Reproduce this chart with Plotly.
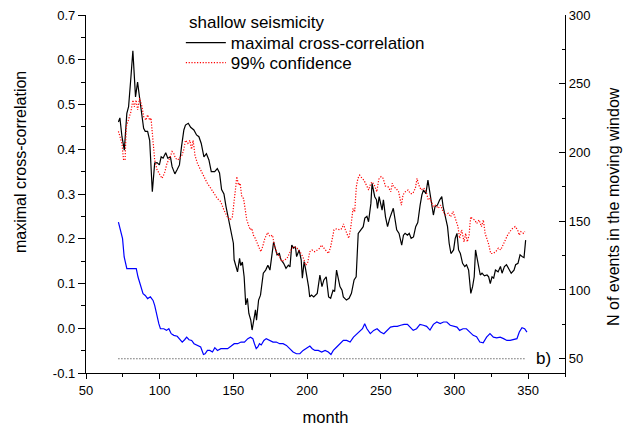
import plotly.graph_objects as go

# ---- data ----
corr_month = [72, 73, 74.4, 76, 77.7, 78.9, 80.5, 81.8, 83.6, 85, 86.4, 88, 89.1, 90.2, 91.8, 93.2, 95, 96.6, 98.2, 99.8,
              101, 102.3, 104.1, 105.5, 107.3, 108.4, 110.3, 111.8, 113.4, 114.8, 116.4, 117.5, 119.4, 121, 123.2, 125,
              126.6, 128.2, 130, 131.7, 133.4, 135, 137.3, 139.1, 140.6, 142, 143.6, 145, 146.4, 147.8, 149, 150, 150.5,
              151.7, 152.8, 154.2, 155, 156.1, 157.3, 158.4, 159.5, 160.5, 161.8, 162.7, 163.9, 165, 165.7, 167.1, 168.4,
              170.3, 171.9, 173.4, 174.8, 176.2, 177.3, 178.2, 179.6, 181.2, 182.3, 184.1, 185.7, 187.3, 188.4, 189.6,
              190.9, 192.1, 192.9, 194.6, 196, 196.8, 198, 198.9, 200.3, 201, 201.8, 203, 204.5, 205.7, 206.9, 208.7,
              210.1, 211.4, 213, 214.6, 216, 217.6, 218.7, 220, 221, 222.3, 223.7, 224.6, 226.7, 228.5, 230.1, 231.9,
              233.3, 234.1, 234.7, 236.5, 238.1, 239.2, 240.6, 241.7, 243.3, 244.1, 245, 245.9, 247.1, 247.8, 248.9, 250,
              250.9, 251.8, 253.2, 254.6, 256, 258.5, 259.7, 260.8, 262.4, 264.2, 265.4, 266.5, 268.1, 269.3, 270.6,
              272.2, 273.7, 275.1, 276.7, 277.9, 279, 280.6, 282, 283.1, 284.3, 285.7, 286.8, 288.4, 290, 291.4, 292.3,
              293.7, 295.3, 296.4, 297.6, 299.4, 300.5, 301.7, 302.8, 304, 305.5, 307, 308.2, 309.6, 310.2, 311.1, 312.3,
              313.4, 314.3, 315.5, 316.4, 317.5, 318.7, 320.3, 322.1, 323.2, 324.3, 325.5, 326.6, 327.8, 329.6, 331.2,
              332.3, 333.9, 335.3, 336.9, 338.5, 340.4, 341.5, 343.1, 344.5, 346.1, 347.2, 348.3]
corr_value = [0.461, 0.47, 0.428, 0.398, 0.48, 0.495, 0.562, 0.62, 0.517, 0.55, 0.514, 0.465, 0.447, 0.44, 0.44, 0.42,
              0.305, 0.369, 0.37, 0.365, 0.383, 0.38, 0.392, 0.38, 0.383, 0.361, 0.345, 0.354, 0.365, 0.406, 0.443, 0.454,
              0.458, 0.449, 0.443, 0.432, 0.428, 0.413, 0.383, 0.39, 0.376, 0.35, 0.35, 0.357, 0.347, 0.31, 0.30, 0.272,
              0.249, 0.22, 0.20, 0.19, 0.153, 0.141, 0.126, 0.156, 0.14, 0.148, 0.115, 0.052, 0.067, 0.033, 0.018, -0.004,
              0.026, 0.041, 0.018, 0.063, 0.074, 0.123, 0.13, 0.141, 0.13, 0.16, 0.193, 0.182, 0.164, 0.167, 0.153,
              0.145, 0.134, 0.141, 0.137, 0.186, 0.179, 0.182, 0.16, 0.175, 0.153, 0.112, 0.149, 0.134, 0.112, 0.093,
              0.07, 0.074, 0.07, 0.074, 0.078, 0.119, 0.093, 0.108, 0.115, 0.07, 0.067, 0.085, 0.082, 0.13, 0.115, 0.093,
              0.085, 0.07, 0.063, 0.067, 0.078, 0.108, 0.115, 0.16, 0.212, 0.22, 0.227, 0.246, 0.25, 0.238, 0.279, 0.324,
              0.305, 0.294, 0.287, 0.268, 0.294, 0.279, 0.264, 0.287, 0.249, 0.227, 0.245, 0.268, 0.242, 0.22, 0.212,
              0.186, 0.208, 0.212, 0.208, 0.212, 0.201, 0.204, 0.227, 0.236, 0.275, 0.298, 0.309, 0.301, 0.331, 0.309,
              0.29, 0.253, 0.272, 0.275, 0.287, 0.294, 0.272, 0.249, 0.227, 0.19, 0.167, 0.175, 0.201, 0.212, 0.175,
              0.167, 0.145, 0.138, 0.142, 0.13, 0.108, 0.078, 0.093, 0.115, 0.175, 0.153, 0.13, 0.119, 0.123, 0.117,
              0.119, 0.115, 0.1, 0.115, 0.112, 0.13, 0.126, 0.138, 0.123, 0.138, 0.142, 0.134, 0.123, 0.13, 0.142, 0.145,
              0.164, 0.16, 0.158, 0.197]

conf_month = [72, 73, 74.4, 75.5, 76.5, 77.3, 78.9, 80.5, 81.8, 82.8, 84, 85, 86.4, 88, 89.1, 90.7, 91.8, 93.2, 94.1,
              95.2, 96.6, 98.2, 100, 101.6, 103.2, 105, 106.8, 108.4, 109.5, 110.7, 112.3, 113.6, 115.2, 116.4, 117.5,
              119.1, 120.5, 121.6, 122.7, 123.9, 125.5, 127.3, 128.9, 130.7, 132.3, 134.6, 136.8, 139.1, 141.4, 143.6,
              145.9, 147.8, 149.3, 150.5, 151.6, 152.3, 153.5, 154.6, 155.7, 156.9, 158, 159.1, 160.2, 161.4, 162.5,
              163.6, 164.8, 166.4, 167.5, 168.6, 169.8, 171.4, 173.2, 174.8, 176.6, 177.7, 179.6, 181.2, 183, 184.6,
              186.4, 188, 189.6, 191.4, 193.2, 194.8, 196, 197.6, 199, 200.3, 201.8, 203.4, 205.2, 207, 208.6, 209.7,
              211.5, 213.1, 214.5, 216, 217.2, 218.3, 219.9, 222.2, 223.7, 224.7, 226, 227.4, 228.3, 229.5, 230.5, 231.2,
              232.3, 233.4, 234.5, 235.7, 237.3, 238.6, 240.2, 241.8, 243.2, 244.3, 245.9, 247.3, 248.7, 250.2, 251.6,
              253.1, 255, 256.8, 257.8, 258.7, 260.3, 262.1, 264, 265.1, 266.7, 268.5, 270.1, 271.7, 273.5, 274.6, 275.8,
              277.4, 279.2, 280.8, 282.2, 283.5, 285.6, 287.2, 289, 290.6, 292.2, 294, 295.8, 297.4, 299, 300.8, 302.4,
              303.5, 304.9, 306.5, 307.6, 308.7, 309.9, 311, 312.1, 313.7, 315.1, 316.7, 318.3, 319.6, 320.8, 321.9, 323,
              324.6, 326.2, 328, 329.8, 331.4, 333, 334.8, 336, 337.6, 339.4, 341.2, 342.8, 344, 345.1, 346.9, 347.8]
conf_value = [0.44, 0.43, 0.413, 0.376, 0.376, 0.45, 0.465, 0.484, 0.51, 0.495, 0.51, 0.488, 0.514, 0.495, 0.473, 0.465,
              0.477, 0.465, 0.47, 0.428, 0.376, 0.354, 0.342, 0.335, 0.346, 0.369, 0.38, 0.395, 0.391, 0.38, 0.376, 0.38,
              0.387, 0.4, 0.42, 0.413, 0.42, 0.40, 0.42, 0.387, 0.369, 0.357, 0.346, 0.335, 0.324, 0.313, 0.302, 0.29,
              0.283, 0.264, 0.249, 0.242, 0.249, 0.279, 0.316, 0.339, 0.32, 0.324, 0.294, 0.29, 0.264, 0.242, 0.231,
              0.22, 0.223, 0.208, 0.201, 0.19, 0.179, 0.171, 0.182, 0.201, 0.214, 0.205, 0.208, 0.186, 0.167, 0.16,
              0.149, 0.153, 0.156, 0.167, 0.179, 0.182, 0.179, 0.172, 0.167, 0.156, 0.141, 0.145, 0.171, 0.175, 0.171,
              0.175, 0.179, 0.186, 0.179, 0.175, 0.167, 0.182, 0.201, 0.22, 0.222, 0.22, 0.223, 0.233, 0.22, 0.208, 0.201,
              0.222, 0.249, 0.268, 0.26, 0.316, 0.335, 0.342, 0.335, 0.331, 0.32, 0.309, 0.324, 0.327, 0.318, 0.305,
              0.333, 0.339, 0.335, 0.318, 0.316, 0.305, 0.324, 0.316, 0.313, 0.305, 0.275, 0.298, 0.305, 0.309, 0.301,
              0.301, 0.313, 0.335, 0.32, 0.309, 0.313, 0.305, 0.287, 0.29, 0.272, 0.275, 0.268, 0.275, 0.261, 0.253,
              0.257, 0.249, 0.261, 0.242, 0.227, 0.201, 0.22, 0.193, 0.212, 0.193, 0.208, 0.249, 0.245, 0.242, 0.234,
              0.242, 0.227, 0.242, 0.212, 0.201, 0.19, 0.167, 0.167, 0.171, 0.179, 0.175, 0.186, 0.201, 0.208, 0.216,
              0.223, 0.227, 0.22, 0.208, 0.216, 0.212, 0.216]

n_month = [72, 73.2, 74.8, 75.9, 77.7, 81.1, 84.1, 85.3, 86.8, 88.7, 90.2, 91.8, 93.7, 95.5, 96.6, 97.8, 99.4, 100.5,
           102.8, 104.6, 106.2, 107.8, 109.6, 111.9, 113.7, 115.3, 116.9, 118.3, 119.9, 121.7, 123.3, 125.6, 127.8,
           129.7, 130.8, 132.4, 134, 135.8, 137.4, 139.2, 141.5, 143.8, 146.1, 148.3, 150.6, 152.9, 155.2, 157.5,
           159.8, 161.6, 163.2, 164.3, 165.5, 166.6, 167.7, 168.9, 170.7, 172.3, 174.6, 176.9, 179.1, 181.4, 183.7,
           186, 188.2, 190.5, 192.8, 195.1, 197.3, 199.6, 201.9, 203.5, 205.3, 207.6, 209.9, 212.2, 214.4, 216.2,
           217.8, 220.1, 222.4, 224.6, 226.9, 229.2, 231.5, 233.8, 236.1, 237.6, 239.1, 240.6, 242.9, 245.2, 247.5,
           249.8, 252.1, 254.4, 256.6, 258.9, 261.2, 263.5, 265.8, 268.1, 269.7, 272, 274.3, 276.6, 278.9, 281.1,
           283.4, 285.7, 288, 290.3, 292.6, 294.8, 297.1, 299.4, 301.7, 303.5, 305.8, 308.1, 310.4, 312.7, 315,
           317.2, 319.5, 321.8, 324.1, 326.4, 328.7, 331, 333.3, 335.6, 337.8, 340.1, 342.4, 344, 345.8, 347.6, 349.2]
n_events = [149.4, 143.4, 137.3, 124, 115.5, 115.5, 115.5, 109.4, 104.6, 97.3, 96, 93.7, 95, 92.4, 88.8, 82.7, 75.5,
            71.8, 71.8, 70.6, 71.8, 68.2, 67, 66.3, 63.8, 62.1, 63.8, 65.7, 63.8, 63.3, 60.9, 59.7, 58.5, 53.1, 53.6,
            56, 56, 54.9, 58, 56, 57.3, 57.3, 57.3, 59, 60.9, 60.9, 62.1, 62.1, 64.6, 65.7, 64.6, 60.9, 57.3, 58.5,
            60.9, 60, 63.3, 64.6, 63.3, 62.1, 62.1, 60.9, 60.9, 59.7, 57.3, 54.9, 53.6, 53.6, 56, 57.3, 59.2, 57.3,
            56, 56, 54.9, 56, 54.9, 53.1, 56, 58.5, 60.9, 63.3, 63.3, 62.1, 65.7, 68.2, 70.6, 71.8, 75.5, 71.8, 68.2,
            70.6, 71.8, 69.4, 68.2, 70.6, 73, 73.5, 73.5, 74.3, 75, 75, 73, 70.6, 71.8, 75, 74.3, 73.5, 70.8, 75,
            76.7, 75.5, 76.7, 76.7, 74.3, 73.5, 73, 70.6, 71.8, 71.8, 69.4, 67, 66, 62.1, 61.5, 65.7, 68.2, 65.7,
            65.2, 65.7, 64.6, 63.3, 63.3, 63.8, 64.6, 69.4, 72.6, 71.8, 69.4]

threshold_month = [72, 348]
threshold_n = [50, 50]

left_tick_vals = [-0.1, 0.0, 0.1, 0.2, 0.3, 0.4, 0.5, 0.6, 0.7]
left_tick_text = ["-0.1", "0.0", "0.1", "0.2", "0.3", "0.4", "0.5", "0.6", "0.7"]
right_tick_vals = [50, 100, 150, 200, 250, 300]
x_tick_vals = [50, 100, 150, 200, 250, 300, 350]

FONT = "Liberation Sans, Arial, Helvetica, sans-serif"

fig = go.Figure()
fig.add_trace(go.Scatter(x=corr_month, y=corr_value, mode="lines", name="maximal cross-correlation",
                         legend="legend", line=dict(color="#000000", width=1.2)))
fig.add_trace(go.Scatter(x=conf_month, y=conf_value, mode="lines", name="99% confidence",
                         legend="legend2", line=dict(color="#ff0000", width=1.2, dash="1.2px,1.6px")))
fig.add_trace(go.Scatter(x=n_month, y=n_events, mode="lines", yaxis="y2", showlegend=False,
                         line=dict(color="#0000ff", width=1.2)))
fig.add_trace(go.Scatter(x=threshold_month, y=threshold_n, mode="lines", yaxis="y2", showlegend=False,
                         line=dict(color="#222222", width=1.1, dash="1px,2px")))

axis_common = dict(showline=True, linecolor="black", linewidth=1.3, tickwidth=1.2,
                   tickcolor="black", showgrid=False, zeroline=False, automargin=False,
                   tickfont=dict(family=FONT, size=13, color="black"))

legend_common = dict(x=0.198, xanchor="left", yanchor="middle", bgcolor="rgba(0,0,0,0)",
                     font=dict(family=FONT, size=17), tracegroupgap=0, itemwidth=40)

fig.update_layout(
    width=630, height=426,
    margin=dict(l=86, r=65, t=15, b=53),
    paper_bgcolor="white", plot_bgcolor="white",
    font=dict(family=FONT, color="black"),
    xaxis=dict(range=[50, 375], tickvals=x_tick_vals, ticks="outside", ticklen=5,
               minor=dict(dtick=25, ticks="outside", ticklen=3, tickcolor="black"),
               title=dict(text="month", font=dict(family=FONT, size=16.5), standoff=16),
               **axis_common),
    yaxis=dict(range=[-0.1, 0.7], tickvals=left_tick_vals, ticktext=left_tick_text, ticks="outside", ticklen=7,
               minor=dict(dtick=0.05, ticks="outside", ticklen=4, tickcolor="black"),
               **axis_common),
    yaxis2=dict(range=[39.6, 300], tickvals=right_tick_vals, overlaying="y", side="right",
                ticks="inside", ticklen=6,
                minor=dict(dtick=25, ticks="inside", ticklen=3, tickcolor="black"),
                **axis_common),
    legend=dict(y=(373 - 43) / 358, **legend_common),
    legend2=dict(y=(373 - 63) / 358, **legend_common),
    annotations=[
        dict(x=(187 - 86) / 479, xref="paper", y=(373 - 23) / 358, yref="paper", text="shallow seismicity",
             showarrow=False, xanchor="left", yanchor="middle", font=dict(family=FONT, size=17)),
        dict(x=(20 - 86) / 479, xref="paper", y=(373 - 162) / 358, yref="paper", text="maximal cross-correlation",
             textangle=-90, showarrow=False, xanchor="center", yanchor="middle", font=dict(family=FONT, size=16)),
        dict(x=(613 - 86) / 479, xref="paper", y=(373 - 207) / 358, yref="paper",
             text="N of events in the moving window",
             textangle=-90, showarrow=False, xanchor="center", yanchor="middle", font=dict(family=FONT, size=16)),
        dict(x=0.975, xref="paper", y=50, yref="y2", text="b)", showarrow=False,
             xanchor="right", yanchor="middle", font=dict(family=FONT, size=17)),
    ],
)

fig.write_html("out.html", config={"displayModeBar": False},
               post_script="document.body.style.margin='0px';document.body.style.overflow='hidden';")
